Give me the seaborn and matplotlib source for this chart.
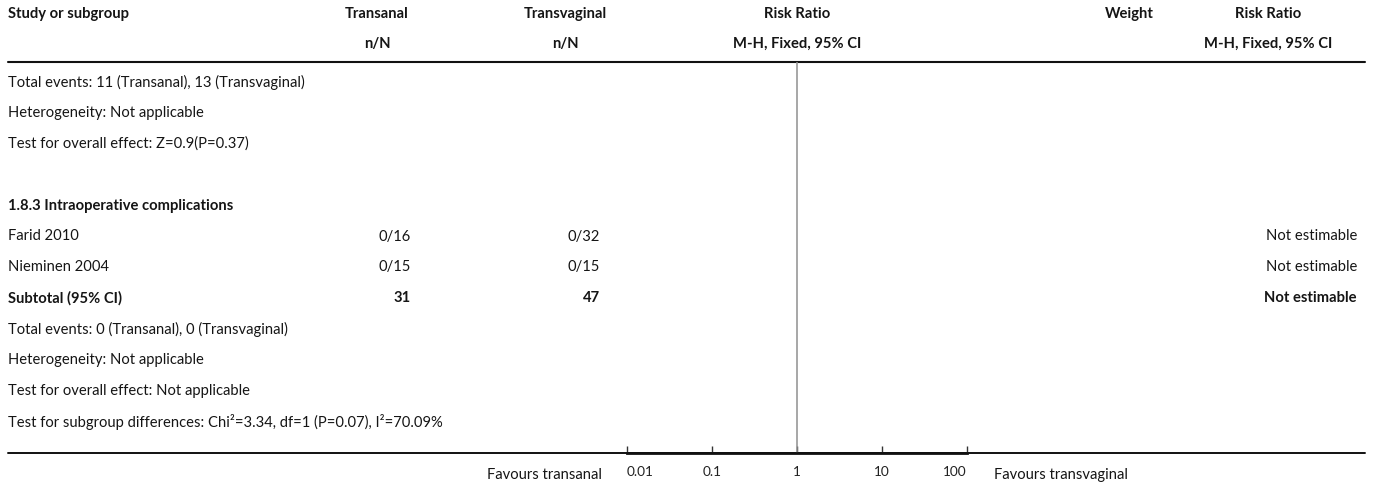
import matplotlib
matplotlib.use("Agg")
import matplotlib.pyplot as plt
import seaborn as sns
import pandas as pd

# ---------------- data ----------------
header_top = ["Study or subgroup", "Transanal", "Transvaginal", "Risk Ratio", "Weight", "Risk Ratio"]
header_sub = ["", "n/N", "n/N", "M-H, Fixed, 95% CI", "", "M-H, Fixed, 95% CI"]

prev_notes = ["Total events: 11 (Transanal), 13 (Transvaginal)",
              "Heterogeneity: Not applicable",
              "Test for overall effect: Z=0.9(P=0.37)"]

subgroup_title = "1.8.3 Intraoperative complications"
studies = ["Farid 2010", "Nieminen 2004"]
transanal = ["0/16", "0/15"]
transvaginal = ["0/32", "0/15"]
study_rr = ["Not estimable", "Not estimable"]
subtotal_label = "Subtotal (95% CI)"
subtotal_transanal = "31"
subtotal_transvaginal = "47"
subtotal_rr = "Not estimable"
sub_notes = ["Total events: 0 (Transanal), 0 (Transvaginal)",
             "Heterogeneity: Not applicable",
             "Test for overall effect: Not applicable",
             "Test for subgroup differences: Chi\u00b2=3.34, df=1 (P=0.07), I\u00b2=70.09%"]

axis_ticks = [0.01, 0.1, 1, 10, 100]
axis_ticklabels = ["0.01", "0.1", "1", "10", "100"]
favours_left = "Favours transanal"
favours_right = "Favours transvaginal"

# ---------------- layout ----------------
W, H = 1373, 484
sns.set_theme(style="white")
plt.rcParams['font.family'] = ['Lato', 'DejaVu Sans']
FS = 10.6
TXT = "#151515"

fig = plt.figure(figsize=(W / 100, H / 100), dpi=100)
ax = fig.add_axes([0, 0, 1, 1])
ax.set_xlim(0, W)
ax.set_ylim(H, 0)
ax.axis('off')

x_study = 8
x_ta = 411
x_tv = 600
x_rr2 = 1357
hdr_centers = [None, 377, 565, 797, 1129, 1268]

# headers
for i, (t, s) in enumerate(zip(header_top, header_sub)):
    if i == 0:
        ax.text(x_study, 14, t, ha='left', va='center', fontsize=FS, fontweight='bold', color=TXT)
    else:
        ax.text(hdr_centers[i], 14, t, ha='center', va='center', fontsize=FS, fontweight='bold', color=TXT)
        if s:
            ax.text(hdr_centers[i], 44, s, ha='center', va='center', fontsize=FS, fontweight='bold', color=TXT)

sns.lineplot(x=[8, 1365], y=[62, 62], ax=ax, color="#111111", linewidth=1.5)

row_h = 30.9
y0 = 82
rows = []
for n in prev_notes:
    rows.append(("note", n))
rows.append(("blank", ""))
rows.append(("title", subgroup_title))
for s, a, b, r in zip(studies, transanal, transvaginal, study_rr):
    rows.append(("study", (s, a, b, r)))
rows.append(("subtotal", (subtotal_label, subtotal_transanal, subtotal_transvaginal, subtotal_rr)))
for n in sub_notes:
    rows.append(("note", n))

for k, (kind, content) in enumerate(rows):
    y = y0 + k * row_h
    if kind == "note":
        ax.text(x_study, y, content, ha='left', va='center', fontsize=FS, color=TXT)
    elif kind == "title":
        ax.text(x_study, y, content, ha='left', va='center', fontsize=FS, fontweight='bold', color=TXT)
    elif kind in ("study", "subtotal"):
        fw = 'bold' if kind == "subtotal" else 'normal'
        s, a, b, r = content
        ax.text(x_study, y, s, ha='left', va='center', fontsize=FS, fontweight=fw, color=TXT)
        ax.text(x_ta, y, a, ha='right', va='center', fontsize=FS, fontweight=fw, color=TXT)
        ax.text(x_tv, y, b, ha='right', va='center', fontsize=FS, fontweight=fw, color=TXT)
        ax.text(x_rr2, y, r, ha='right', va='center', fontsize=FS, fontweight=fw, color=TXT)

y_bottom = 453
sns.lineplot(x=[8, 1365], y=[y_bottom, y_bottom], ax=ax, color="#111111", linewidth=1.4)

# ---------------- forest axis ----------------
ax_l, ax_r = 627, 967
fax = fig.add_axes([ax_l / W, (H - y_bottom) / H, (ax_r - ax_l) / W, (y_bottom - 62) / H])
fax.patch.set_alpha(0)
fax.set_xscale('log')
fax.set_xlim(axis_ticks[0], axis_ticks[-1])
fax.set_ylim(0, 1)
fax.axvline(1, color="#8f8f8f", linewidth=1.1)
sns.despine(ax=fax, left=True, top=True, right=True, bottom=False)
fax.spines['bottom'].set_linewidth(2.0)
fax.spines['bottom'].set_color("#111111")
fax.set_yticks([])
fax.set_xticks(axis_ticks)
fax.set_xticklabels(axis_ticklabels)
fax.minorticks_off()
fax.tick_params(axis='x', direction='in', length=5, width=1, color="#333333",
                labelsize=9.8, labelcolor="#222222", pad=9, bottom=True)
labels = fax.get_xticklabels()
labels[0].set_horizontalalignment('left')
labels[-1].set_horizontalalignment('right')
fax.grid(False)

ax.text(602, 475, favours_left, ha='right', va='center', fontsize=FS, color=TXT)
ax.text(994, 475, favours_right, ha='left', va='center', fontsize=FS, color=TXT)

fig.savefig("out.png", dpi=100)
